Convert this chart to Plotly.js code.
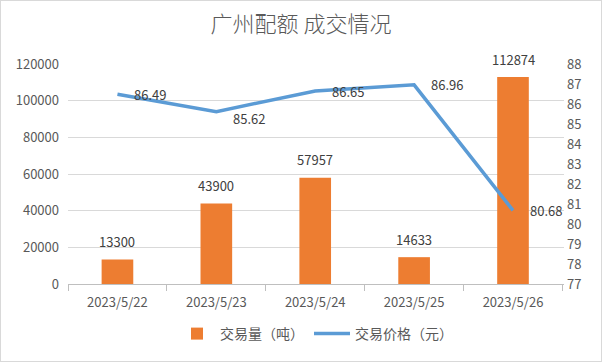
<!DOCTYPE html>
<html><head><meta charset="utf-8">
<script src="https://cdn.plot.ly/plotly-3.0.1.min.js"></script>
<style>
html,body{margin:0;padding:0;background:#fff;}
#chart{width:600px;height:360px;border:1px solid #d9d9d9;}
</style></head>
<body><div id="chart"></div>
<script>
const categories = ["2023/5/22","2023/5/23","2023/5/24","2023/5/25","2023/5/26"];
const volume = [13300, 43900, 57957, 14633, 112874];
const price = [86.49, 85.62, 86.65, 86.96, 80.68];
const volumeName = "交易量（吨）";
const priceName = "交易价格（元）";
const titleText = "广州配额 成交情况";

const font = "'Noto Sans CJK SC', 'Noto Sans', sans-serif";

const traces = [
  {type:'bar', x:categories, y:volume, name:volumeName, marker:{color:'#ed7d31'},
   width:0.32, hoverinfo:'none'},
  {type:'scatter', mode:'lines', x:categories, y:price, name:priceName, yaxis:'y2',
   line:{color:'#5b9bd5', width:3.5}, hoverinfo:'none'}
];

const annotations = [];
categories.forEach((c,i)=>{
  annotations.push({x:c, y:volume[i], xref:'x', yref:'y', text:String(volume[i]),
    showarrow:false, yshift:18, font:{family:font, size:13, color:'#404040'}});
  annotations.push({x:c, y:price[i], xref:'x', yref:'y2', text:price[i].toFixed(2),
    showarrow:false, xanchor:'left', xshift:15, yshift:(i===1?-7:0),
    font:{family:font, size:13, color:'#404040'}});
});

const layout = {
  width:600, height:360,
  margin:{l:67, r:37, t:63, b:77, autoexpand:false},
  paper_bgcolor:'#fff', plot_bgcolor:'#fff',
  title:{text:titleText, x:0.5, xanchor:'center', xshift:6, yref:'container', y:0.935, yanchor:'middle',
    font:{family:font, size:22, color:'#595959', weight:300}},
  font:{family:font, color:'#595959', size:13},
  showlegend:true,
  legend:{orientation:'h', x:0.5, xanchor:'center', yref:'container', y:0.075, yanchor:'middle',
    font:{family:font, size:14, color:'#595959'}, traceorder:'normal', itemwidth:36},
  xaxis:{type:'category', showline:true, linecolor:'#bfbfbf', linewidth:1,
    ticks:'outside', tickson:'boundaries', ticklen:6, tickcolor:'#bfbfbf',
    tickfont:{family:font, size:13, color:'#595959'}, showgrid:false, zeroline:false,
    ticklabelstandoff:6},
  yaxis:{range:[0,120000], dtick:20000, tick0:0, tickformat:'d', showgrid:true, gridcolor:'#d9d9d9',
    zeroline:false, tickfont:{family:font, size:13, color:'#595959'}, ticks:'',
    ticklabelstandoff:8},
  yaxis2:{range:[77,88], dtick:1, tick0:77, overlaying:'y', side:'right', showgrid:false,
    zeroline:false, tickfont:{family:font, size:13, color:'#595959'}, ticks:'', ticklabelstandoff:2},
  annotations:annotations,
  bargap:0.68
};

Plotly.newPlot('chart', traces, layout, {displayModeBar:false, staticPlot:true});
</script></body></html>
